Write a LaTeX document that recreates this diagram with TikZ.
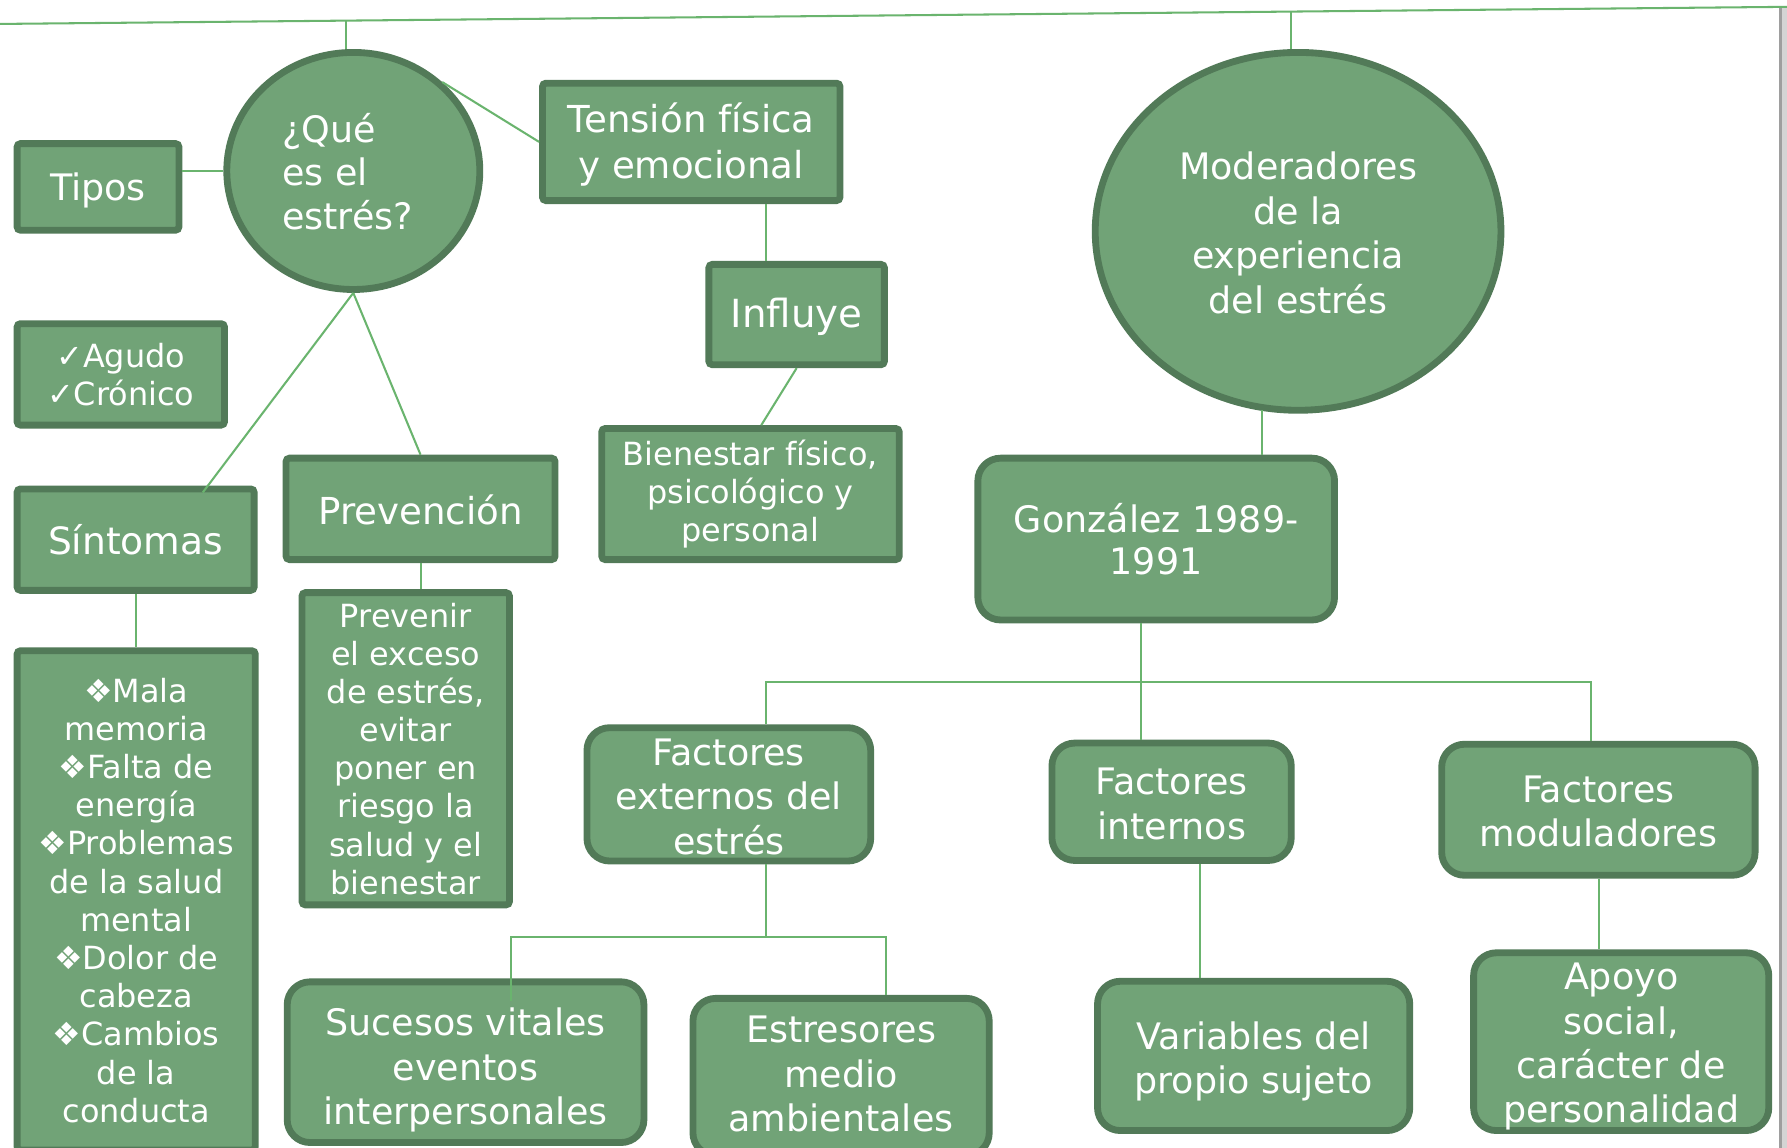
\documentclass[tikz,border=0pt]{standalone}
\usepackage{fontspec}
\setmainfont{DejaVu Sans}
\usetikzlibrary{shapes.geometric,calc}

\definecolor{boxfill}{RGB}{113,163,119}
\definecolor{boxedge}{RGB}{82,122,88}
\definecolor{linkg}{RGB}{106,180,110}

% set a centred block of lines a little lower than the node would put it,
% without changing the size the node sees
\newcommand\lowerlines[2]{\raisebox{-#1}[\height][\depth]{\begin{tabular}{@{}c@{}}#2\end{tabular}}}
\newcommand\lowerleft[2]{\raisebox{-#1}[\height][\depth]{\kern-5pt\begin{tabular}{@{}l@{}}#2\end{tabular}}}

\tikzset{
  base/.style={draw=boxedge, fill=boxfill, line width=3pt, text=white,
    align=center, inner sep=0pt},
  sqbox/.style={base, rectangle, rounded corners=1.5pt},
  rbox/.style={base, rectangle, rounded corners=10pt},
  oval/.style={base, ellipse},
  wh/.style 2 args={minimum width={(#1-6)*0.5pt}, minimum height={(#2-6)*0.5pt}},
  big/.style={font=\fontsize{16pt}{19.5pt}\selectfont},
  small/.style={font=\fontsize{14pt}{16.75pt}\selectfont},
  link/.style={draw=linkg, line width=0.9pt},
}

\begin{document}
\begin{tikzpicture}[x=0.5pt, y=-0.5pt]
  \clip (0,0) rectangle (1568,1007);
  \fill[white] (0,0) rectangle (1568,1007);

  % window edge on the right
  \fill[black!38] (1561,6) rectangle (1564,1007);
  \fill[black!17] (1564,6) rectangle (1568,1007);

  % left branch
  \node[oval, wh={228}{214}, font=\fontsize{16pt}{19.25pt}\selectfont]
    (q) at (310,150) {\lowerleft{2.75pt}{¿Qué\\es el\\estrés?}};
  \node[sqbox, wh={148}{82}, big] (tipos) at (86,164) {\lowerlines{2pt}{Tipos}};
  \node[sqbox, wh={188}{95}, small] (agudo) at (106,328.5) {✓Agudo\\✓Crónico};
  \node[sqbox, wh={214}{95}, font=\fontsize{16.5pt}{19.5pt}\selectfont]
    (sint) at (119,473.5) {\lowerlines{2.5pt}{Síntomas}};
  \node[sqbox, wh={215}{444}, small] (list) at (119.5,790)
    {❖Mala\\memoria\\❖Falta de\\energía\\❖Problemas\\de la salud\\mental\\❖Dolor de\\cabeza\\❖Cambios\\de la\\conducta};
  \node[sqbox, wh={242}{95}, font=\fontsize{16.3pt}{19.5pt}\selectfont]
    (prev) at (369,446.5) {\lowerlines{3pt}{Prevención}};
  \node[sqbox, wh={188}{280}, small] (prevenir) at (356,657)
    {Prevenir\\el exceso\\de estrés,\\evitar\\poner en\\riesgo la\\salud y el\\bienestar};

  % middle branch
  \node[sqbox, wh={267}{109}, font=\fontsize{16.3pt}{20pt}\selectfont]
    (tension) at (606.5,124.5) {\lowerlines{2pt}{Tensión física\\y emocional}};
  \node[sqbox, wh={160}{94}, font=\fontsize{17pt}{20pt}\selectfont]
    (infl) at (699,276) {\lowerlines{1.5pt}{Influye}};
  \node[sqbox, wh={267}{121}, small] (bien) at (658.5,433.5)
    {Bienestar físico,\\psicológico y\\personal};

  % right branch
  \node[oval, wh={362}{320}, big] (mod) at (1139,203)
    {\lowerlines{2.8pt}{Moderadores\\de la\\experiencia\\del estrés}};
  \node[rbox, wh={319}{148}, font=\fontsize{16pt}{18.75pt}\selectfont]
    (gonz) at (1014.5,473) {González 1989-\\1991};
  \node[rbox, wh={255}{122}, big] (ext) at (639.5,697)
    {\lowerlines{2.95pt}{Factores\\externos del\\estrés}};
  \node[rbox, wh={216}{109}, big] (int) at (1028,703.5)
    {\lowerlines{2.75pt}{Factores\\internos}};
  \node[rbox, wh={281}{121}, big] (modl) at (1402.5,710.5)
    {\lowerlines{2.5pt}{Factores\\moduladores}};
  \node[rbox, wh={319}{147}, big] (suc) at (408.5,932)
    {\lowerlines{4pt}{Sucesos vitales\\eventos\\interpersonales}};
  \node[rbox, wh={266}{144}, big] (estr) at (738,945)
    {\lowerlines{0.5pt}{Estresores\\medio\\ambientales}};
  \node[rbox, wh={280}{137}, big] (var) at (1100,926.5)
    {\lowerlines{3pt}{Variables del\\propio sujeto}};
  \node[rbox, wh={265}{162}, big] (apoyo) at (1422.5,914)
    {\lowerlines{2.5pt}{Apoyo\\social,\\carácter de\\personalidad}};

  % joints of the connectors
  \coordinate (topL) at (0,21);
  \coordinate (topR) at (1568,6);
  \coordinate (s1) at (304,18);
  \coordinate (s2) at (1133,10);
  \coordinate (sa) at (178,432);
  \coordinate (x672) at (672,0);
  \coordinate (bt) at (668,373);
  \coordinate (mg) at (1107,360);
  \coordinate (gx) at (1001,0);
  \coordinate (hl) at (672,598);
  \coordinate (hr) at (1396,598);
  \coordinate (ev) at (672,822);
  \coordinate (el) at (448,822);
  \coordinate (er) at (777,822);
  \coordinate (sucin) at (448,878);
  \coordinate (ix) at (1053,0);
  \coordinate (ax) at (1403,0);

  % connectors
  \draw[link] (topL) -- (topR);
  \draw[link] (s1) -- (s1 |- q.north);
  \draw[link] (s2) -- (s2 |- mod.north);
  \draw[link] (q.west) -- (q.west -| tipos.east);
  \draw[link] (q.45) -- (tension.west);
  \draw[link] (q.south) -- (sa);
  \draw[link] (q.south) -- (prev.north);
  \draw[link] (sint.south) -- (sint.south |- list.north);
  \draw[link] (prev.south) -- (prev.south |- prevenir.north);
  \draw[link] (tension.south -| x672) -- (infl.north -| x672);
  \draw[link] (infl.south) -- (bt);
  \draw[link] (mg) -- (mg |- gonz.north);
  \draw[link] (gonz.south -| gx) -- (int.north -| gx);
  \draw[link] (ext.north -| hl) -- (hl) -- (hr) -- (modl.north -| hr);
  \draw[link] (ext.south -| ev) -- (ev);
  \draw[link] (sucin) -- (el) -- (er) -- (estr.north -| er);
  \draw[link] (int.south -| ix) -- (var.north -| ix);
  \draw[link] (modl.south -| ax) -- (apoyo.north -| ax);
\end{tikzpicture}
\end{document}
